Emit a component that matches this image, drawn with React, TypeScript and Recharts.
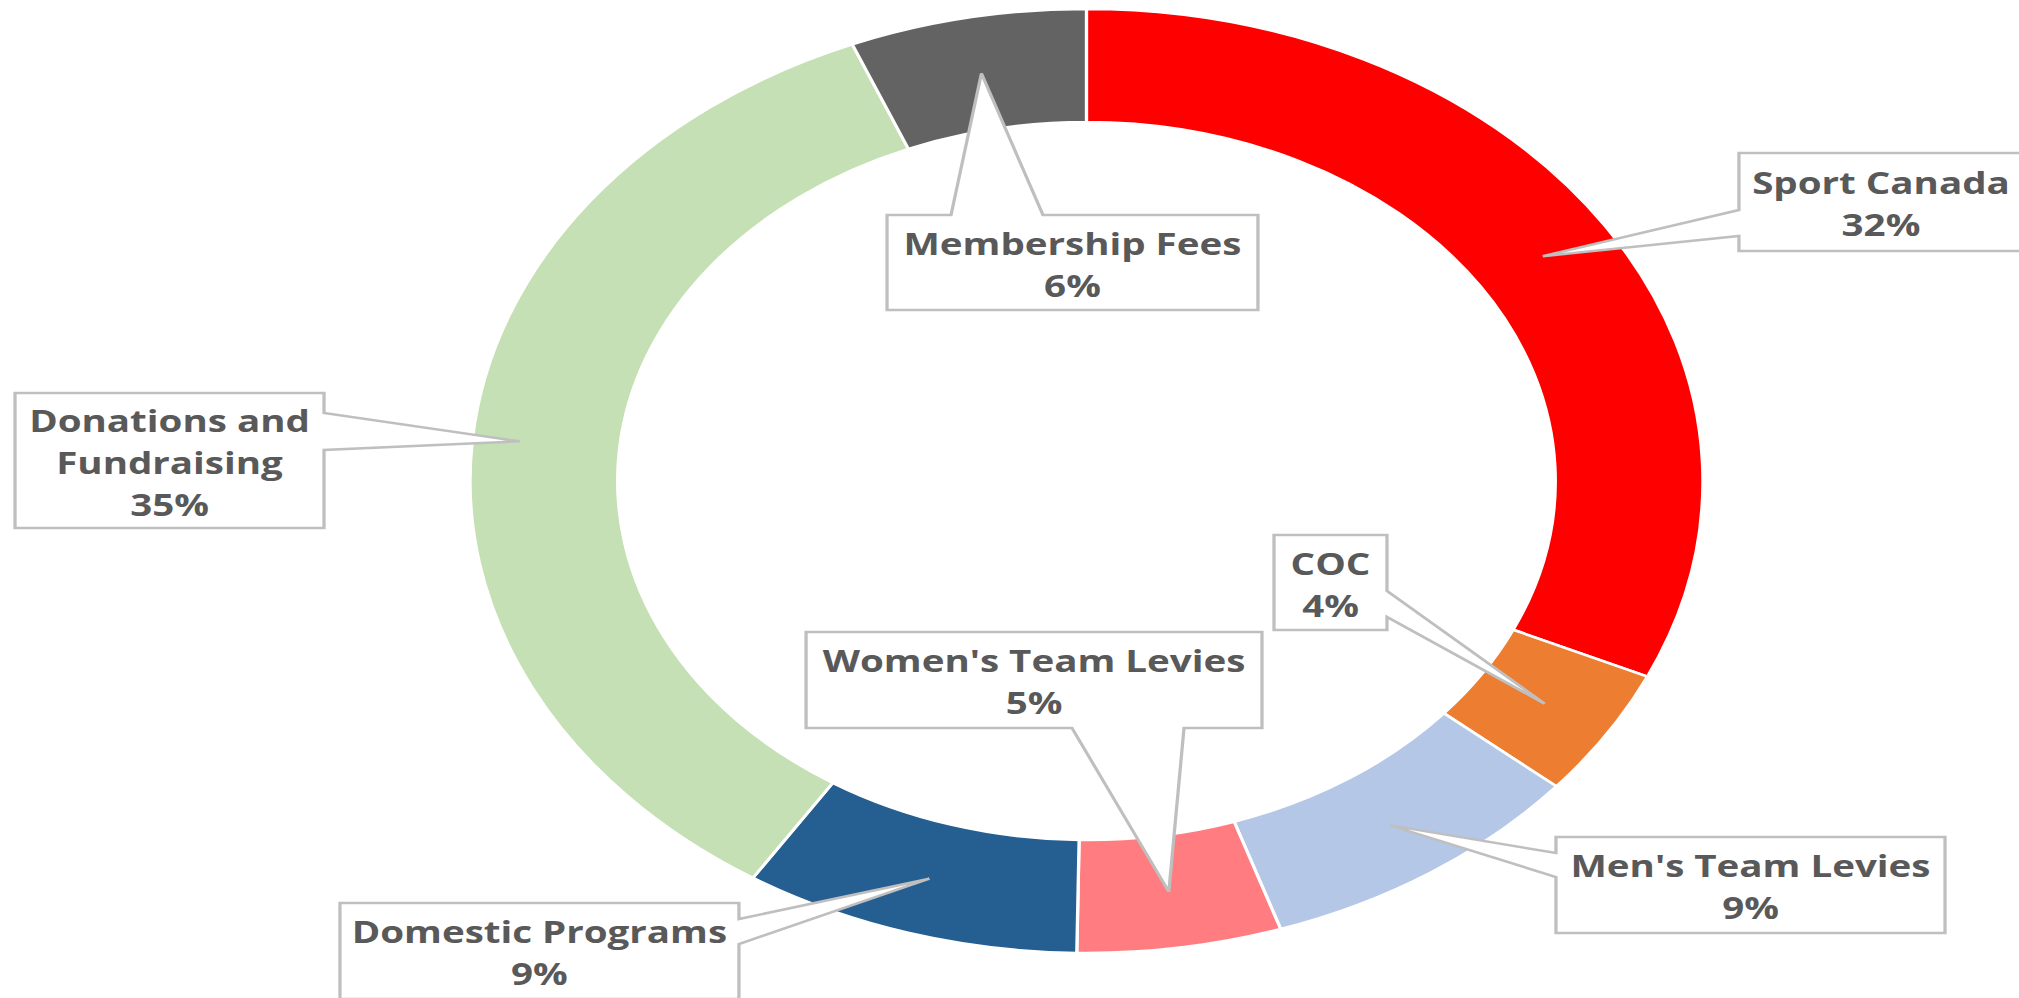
import React from "react";
import { PieChart, Pie, Cell } from "recharts";

// ---- data ----
const categories = [
  "Sport Canada",
  "COC",
  "Men's Team Levies",
  "Women's Team Levies",
  "Domestic Programs",
  "Donations and Fundraising",
  "Membership Fees",
];
const shares = [31.8, 4.4, 8.7, 5.35, 8.85, 34.7, 6.2];
const colors = ["#FF0000", "#ED7D31", "#B4C7E7", "#FF7C80", "#255E91", "#C5E0B4", "#636363"];
const labelLines: Record<string, string[]> = {
  "Donations and Fundraising": ["Donations and", "Fundraising"],
};

// ---- layout (callout boxes, in unstretched chart coordinates) ----
type Box = {
  x0: number; y0: number; x1: number; y1: number;
  side: "top" | "bottom" | "left" | "right"; a: number; b: number; tipFrac: number;
};
const labelBoxes: Box[] = [
  { x0: 1331.5, y0: 153, x1: 1549, y1: 251, side: "left", a: 210, b: 236, tipFrac: 0.5 },
  { x0: 975.5, y0: 535, x1: 1062, y1: 630, side: "right", a: 591, b: 617, tipFrac: 0.5 },
  { x0: 1191.4, y0: 837, x1: 1489.3, y1: 933, side: "left", a: 853, b: 877, tipFrac: 0.5 },
  { x0: 617.2, y0: 632, x1: 966.3, y1: 728, side: "bottom", a: 820.8, b: 906.6, tipFrac: 0.5 },
  { x0: 260.3, y0: 903, x1: 565.8, y1: 999, side: "right", a: 919, b: 944, tipFrac: 0.5 },
  { x0: 11.5, y0: 393, x1: 248.1, y1: 528, side: "right", a: 413, b: 450, tipFrac: 0.68 },
  { x0: 679.2, y0: 215, x1: 963.2, y1: 310, side: "top", a: 728.2, b: 798.6, tipFrac: 0.5 },
];

const data = categories.map((name, i) => ({ name, value: shares[i] }));

const STRETCH = 1.306;
const W = 1546;
const H = 998;
const RAD = Math.PI / 180;

function calloutPath(bx: Box, tx: number, ty: number) {
  const { x0, y0, x1, y1, side, a, b } = bx;
  const pts: [number, number][] = [[x0, y0]];
  if (side === "top") pts.push([a, y0], [tx, ty], [b, y0]);
  pts.push([x1, y0]);
  if (side === "right") pts.push([x1, a], [tx, ty], [x1, b]);
  pts.push([x1, y1]);
  if (side === "bottom") pts.push([b, y1], [tx, ty], [a, y1]);
  pts.push([x0, y1]);
  if (side === "left") pts.push([x0, b], [tx, ty], [x0, a]);
  return "M" + pts.map((p) => `${p[0]},${p[1]}`).join(" L") + " Z";
}

const renderLabel = (props: any) => {
  const { cx, cy, midAngle, innerRadius, outerRadius, index, percent, name } = props;
  const bx = labelBoxes[index];
  if (!bx) return null;
  const r = innerRadius + (outerRadius - innerRadius) * bx.tipFrac;
  const tx = cx + r * Math.cos(-midAngle * RAD);
  const ty = cy + r * Math.sin(-midAngle * RAD);
  const lines = [...(labelLines[name] || [name]), `${Math.round(percent * 100)}%`];
  const ccx = (bx.x0 + bx.x1) / 2;
  const ccy = (bx.y0 + bx.y1) / 2 + 3;
  const n = lines.length;
  return (
    <g key={`lbl-${index}`}>
      <path d={calloutPath(bx, tx, ty)} fill="#FFFFFF" stroke="#BFBFBF" strokeWidth={2.5} strokeLinejoin="miter" />
      {lines.map((ln, i) => (
        <text
          key={i}
          x={ccx}
          y={ccy + (i - (n - 1) / 2) * 42 + 10.5}
          textAnchor="middle"
          fill="#595959"
          fontFamily="'Open Sans', sans-serif"
          fontWeight={700}
          fontSize={29.5}
        >
          {ln}
        </text>
      ))}
    </g>
  );
};

export default function App() {
  return (
    <div
      style={{
        position: "absolute",
        left: 0,
        top: 0,
        width: W,
        height: H,
        transform: `scaleX(${STRETCH})`,
        transformOrigin: "0 0",
        background: "#FFFFFF",
      }}
    >
      <PieChart width={W} height={H} margin={{ top: 0, right: 0, bottom: 0, left: 0 }}>
        <Pie
          data={data}
          dataKey="value"
          nameKey="name"
          cx={831.9}
          cy={481}
          innerRadius={359}
          outerRadius={472}
          startAngle={90}
          endAngle={-270}
          stroke="#FFFFFF"
          strokeWidth={2.5}
          label={renderLabel}
          labelLine={false}
          isAnimationActive={false}
        >
          {data.map((d, i) => (
            <Cell key={d.name} fill={colors[i]} />
          ))}
        </Pie>
      </PieChart>
    </div>
  );
}
